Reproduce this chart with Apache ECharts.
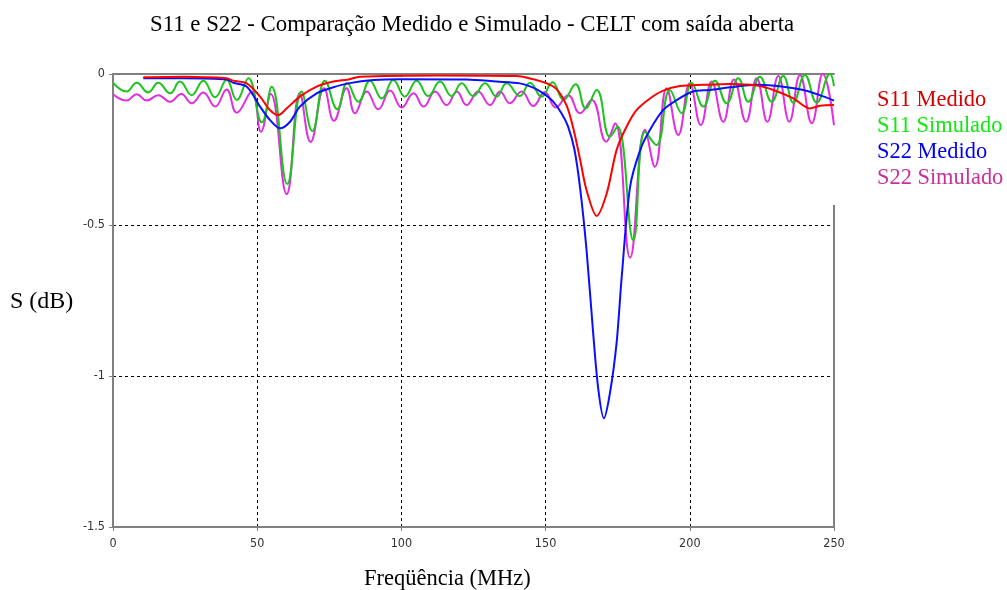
<!DOCTYPE html>
<html><head><meta charset="utf-8">
<script src="https://cdn.jsdelivr.net/npm/echarts@6/dist/echarts.min.js"></script>
<style>html,body{margin:0;padding:0;background:#fff}#c{width:1007px;height:590px}</style>
</head><body><div id="c"></div>
<script>
// ---- data (frequency in MHz, S in dB) ----
const s11MedFreq = [10.5, 24.4, 39.4, 41.7, 46.4, 51.0, 54.4, 57.3, 60.2, 64.8, 70.6, 76.4, 81.6, 85.6, 113.4, 140.0, 144.6, 150.4, 153.8, 157.3, 159.6, 161.9, 164.2, 167.7, 171.2, 174.6, 178.1, 181.6, 186.2, 190.8, 196.6, 204.7, 213.9, 223.2, 229.0, 235.9, 241.7, 245.1, 250];
const s11MedVal  = [-0.011, -0.009, -0.014, -0.022, -0.031, -0.075, -0.119, -0.136, -0.114, -0.075, -0.042, -0.025, -0.018, -0.009, -0.005, -0.007, -0.015, -0.031, -0.050, -0.105, -0.180, -0.280, -0.385, -0.470, -0.395, -0.252, -0.174, -0.119, -0.081, -0.055, -0.040, -0.036, -0.033, -0.038, -0.053, -0.081, -0.114, -0.105, -0.103];

const s11SimFreq = [0, 4.7, 8.2, 12.2, 15.7, 19.8, 23.2, 27.3, 31.3, 35.4, 39.4, 42.9, 46.9, 51.6, 55.0, 60.4, 65.4, 69.1, 73.5, 77.8, 81.2, 85.1, 89.1, 93.2, 97.2, 101.2, 105.3, 109.3, 113.4, 117.4, 120.9, 124.9, 129.0, 133.0, 136.5, 141.1, 144.6, 148.6, 152.4, 156.2, 160.4, 163.9, 167.7, 172.3, 174.9, 180.4, 184.5, 188.4, 193.1, 197.2, 200.6, 204.7, 208.7, 212.8, 216.8, 220.3, 224.3, 228.4, 232.4, 235.9, 239.9, 244.0, 248.6, 250];
const s11SimVal  = [-0.029, -0.058, -0.029, -0.061, -0.029, -0.064, -0.025, -0.070, -0.022, -0.077, -0.020, -0.086, -0.014, -0.160, -0.042, -0.364, -0.058, -0.189, -0.022, -0.117, -0.030, -0.092, -0.022, -0.081, -0.020, -0.075, -0.022, -0.073, -0.025, -0.073, -0.031, -0.073, -0.031, -0.075, -0.031, -0.073, -0.029, -0.075, -0.027, -0.086, -0.034, -0.114, -0.053, -0.208, -0.174, -0.550, -0.191, -0.235, -0.053, -0.130, -0.029, -0.108, -0.022, -0.097, -0.014, -0.092, -0.009, -0.092, -0.007, -0.095, -0.003, -0.095, 0.000, -0.040];

const s22MedFreq = [10.5, 24.4, 39.4, 41.7, 46.4, 51.0, 54.4, 57.9, 61.4, 64.8, 70.6, 76.4, 81.6, 90.3, 99.5, 122.6, 133.0, 141.1, 145.7, 149.2, 152.5, 155.5, 157.8, 160.0, 162.0, 164.2, 166.5, 168.3, 170.2, 172.3, 174.6, 176.4, 179.3, 182.8, 186.2, 190.8, 195.5, 201.1, 207.0, 213.9, 223.2, 232.4, 239.4, 245.1, 250];
const s22MedVal  = [-0.014, -0.014, -0.018, -0.029, -0.042, -0.108, -0.152, -0.180, -0.158, -0.108, -0.064, -0.044, -0.031, -0.020, -0.017, -0.018, -0.025, -0.031, -0.045, -0.064, -0.090, -0.130, -0.174, -0.250, -0.380, -0.583, -0.859, -1.046, -1.140, -1.057, -0.892, -0.671, -0.373, -0.252, -0.185, -0.119, -0.086, -0.058, -0.053, -0.044, -0.036, -0.042, -0.053, -0.070, -0.088];

const s22SimFreq = [0, 4.7, 8.2, 11.7, 15.7, 19.8, 23.7, 27.3, 31.3, 35.4, 39.4, 42.9, 48.1, 51.3, 54.7, 60.2, 64.8, 68.5, 73.2, 76.6, 81.0, 83.9, 88.0, 92.0, 96.1, 100.1, 104.2, 107.7, 111.7, 115.7, 119.2, 122.6, 126.6, 130.7, 134.2, 137.6, 141.7, 145.7, 149.7, 153.5, 157.8, 161.9, 166.0, 171.0, 174.1, 179.3, 184.5, 187.9, 192.0, 196.0, 200.0, 203.8, 207.6, 211.6, 215.3, 219.5, 223.2, 226.9, 230.7, 234.5, 238.2, 242.3, 246.1, 250];
const s22SimVal  = [-0.067, -0.088, -0.067, -0.088, -0.070, -0.092, -0.066, -0.097, -0.061, -0.108, -0.051, -0.128, -0.058, -0.191, -0.066, -0.398, -0.064, -0.225, -0.047, -0.155, -0.047, -0.130, -0.058, -0.117, -0.055, -0.111, -0.064, -0.108, -0.058, -0.103, -0.058, -0.103, -0.058, -0.103, -0.058, -0.097, -0.058, -0.106, -0.060, -0.111, -0.070, -0.130, -0.086, -0.224, -0.163, -0.608, -0.185, -0.307, -0.047, -0.202, -0.031, -0.169, -0.025, -0.158, -0.018, -0.158, -0.014, -0.158, -0.007, -0.158, -0.003, -0.163, 0.000, -0.169];

const xTicks = [0, 50, 100, 150, 200, 250];
const yTicks = [0, -0.5, -1, -1.5];
const seriesNames = ['S11 Medido', 'S11 Simulado', 'S22 Medido', 'S22 Simulado'];

function pairs(xs, ys) { return xs.map((x, i) => [x, ys[i]]); }

const lineColors = ['#ff0000', '#1cc41c', '#0a10ff', '#e02ee0'];
const textColors = ['#d40000', '#10e810', '#0000f0', '#c83296'];
const serif = '"Liberation Serif", "Times New Roman", serif';
const narrow = '"Liberation Sans Narrow", "DejaVu Sans Condensed", Arial, sans-serif';

const chart = echarts.init(document.getElementById('c'), null, {renderer: 'canvas'});
const datasets = [pairs(s11MedFreq, s11MedVal), pairs(s11SimFreq, s11SimVal), pairs(s22MedFreq, s22MedVal), pairs(s22SimFreq, s22SimVal)];
const smooths = [0.3, 0.45, 0.3, 0.45];

const series = seriesNames.map((n, i) => ({
  name: n, type: 'line', data: datasets[i], showSymbol: false, symbol: 'none',
  smooth: smooths[i], lineStyle: {color: lineColors[i], width: 2}, itemStyle: {color: lineColors[i]},
  z: [4, 2, 3, 1][i], animation: false
}));
series[0].markLine = {
  silent: true, symbol: 'none', animation: false, label: {show: false},
  lineStyle: {color: '#808080', width: 2, type: 'solid'},
  data: [[{coord: [xTicks[xTicks.length - 1], -0.434]}, {coord: [xTicks[xTicks.length - 1], yTicks[yTicks.length - 1]]}]]
};

chart.setOption({
  animation: false,
  backgroundColor: '#fff',
  grid: {left: 113, top: 74, width: 721, height: 453},
  graphic: [
    {type: 'text', left: 150, top: 14, style: {text: 'S11 e S22 - Comparação Medido e Simulado - CELT com saída aberta', font: '22.8px ' + serif, fill: '#000'}},
    {type: 'text', left: 10, top: 290, style: {text: 'S (dB)', font: '24px ' + serif, fill: '#000'}},
    {type: 'text', left: 364, top: 568, style: {text: 'Freqüência (MHz)', font: '22.5px ' + serif, fill: '#000'}}
  ],
  legend: {
    orient: 'vertical', left: 867, top: 84, itemWidth: 0, itemHeight: 0, itemGap: 4,
    selectedMode: false, icon: 'rect',
    textStyle: {fontFamily: serif, fontSize: 22.4, padding: 0},
    data: seriesNames.map((n, i) => ({name: n, textStyle: {color: textColors[i]}}))
  },
  xAxis: [{
    type: 'value', min: xTicks[0], max: xTicks[xTicks.length - 1], interval: 50, position: 'bottom',
    axisLine: {show: true, onZero: false, lineStyle: {color: '#808080', width: 2}},
    axisTick: {show: true, length: 4, lineStyle: {color: '#808080'}},
    axisLabel: {fontFamily: narrow, fontSize: 12.5, color: '#333', margin: 10},
    splitLine: {show: true, showMinLine: false, showMaxLine: false, lineStyle: {color: '#000', width: 1, type: [3, 3]}}
  }, {
    type: 'value', min: xTicks[0], max: xTicks[xTicks.length - 1], position: 'top',
    axisLine: {show: true, onZero: false, lineStyle: {color: '#808080', width: 2}},
    axisTick: {show: false}, axisLabel: {show: false}, splitLine: {show: false}
  }],
  yAxis: {
    type: 'value', min: yTicks[yTicks.length - 1], max: yTicks[0], interval: 0.5,
    axisLine: {show: true, onZero: false, lineStyle: {color: '#808080', width: 2}},
    axisTick: {show: true, length: 4, lineStyle: {color: '#808080'}},
    axisLabel: {fontFamily: narrow, fontSize: 12.5, color: '#333', margin: 8},
    splitLine: {show: true, showMinLine: false, showMaxLine: false, lineStyle: {color: '#000', width: 1, type: [3, 3]}}
  },
  series: series
});
</script>
</body></html>
